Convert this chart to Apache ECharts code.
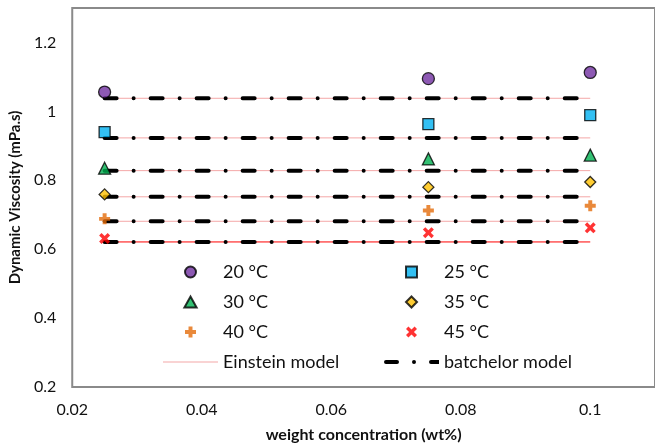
<!DOCTYPE html>
<html>
<head>
<meta charset="utf-8">
<script src="https://cdn.jsdelivr.net/npm/echarts@6/dist/echarts.min.js"></script>
<style>
  html, body { margin: 0; padding: 0; background: #fff; }
  #chart { width: 655px; height: 448px; }
</style>
</head>
<body>
<div id="chart"></div>
<script>
/* ------------------------------- Data -------------------------------- */
const concentrations = [0.025, 0.075, 0.1];
const tempNames = ['20 °C', '25 °C', '30 °C', '35 °C', '40 °C', '45 °C'];
const visc20 = [1.056, 1.095, 1.113];
const visc25 = [0.940, 0.963, 0.989];
const visc30 = [0.835, 0.862, 0.873];
const visc35 = [0.759, 0.780, 0.795];
const visc40 = [0.688, 0.712, 0.726];
const visc45 = [0.631, 0.648, 0.662];
// model lines, one value per temperature (flat over the range)
const modelRange = [0.025, 0.1];
const einstein = [1.038, 0.923, 0.828, 0.752, 0.681, 0.621];
const batchelor = [1.038, 0.923, 0.828, 0.752, 0.681, 0.621];

const measured = [visc20, visc25, visc30, visc35, visc40, visc45];

/* ------------------------------ Styles ------------------------------- */
const FONT = 'Lato';
const TEXT = '#111';
const plusPath = 'path://M3.2,0H6.8V3.2H10V6.8H6.8V10H3.2V6.8H0V3.2H3.2Z';
const crossPath = 'path://M0,2.2L2.2,0L5,2.8L7.8,0L10,2.2L7.2,5L10,7.8L7.8,10L5,7.2L2.2,10L0,7.8L2.8,5Z';

const markers = [
  { symbol: 'circle', icon: 'circle', size: 12, color: '#7030A0', border: '#000' },
  { symbol: 'rect', icon: 'path://M0,0H10V10H0Z', size: 11, color: '#00B0F0', border: '#000' },
  { symbol: 'triangle', icon: 'path://M5,0L10,9H0Z', size: 12, color: '#00B050', border: '#000' },
  { symbol: 'diamond', icon: 'path://M5,0L10,5L5,10L0,5Z', size: 11, color: '#FFC000', border: '#000' },
  { symbol: plusPath, icon: plusPath, size: 11, color: '#E36C0A', border: null },
  { symbol: crossPath, icon: crossPath, size: 11, color: '#FF0000', border: null }
];

const einsteinColor = i => (i === 5 ? '#FF0000' : '#F4A7A7');

// legend samples for the two model lines
const einsteinIcon = 'path://M0,0H55V1H0Z';
const batchelorIcon = 'path://M2,0H13A2,2 0 0 1 13,4H2A2,2 0 0 1 2,0Z' +
  'M30,0A2,2 0 0 1 30,4A2,2 0 0 1 30,0Z' +
  'M47,0H55V4H47A2,2 0 0 1 47,0Z';

/* ------------------------------ Series ------------------------------- */
const series = [];

einstein.forEach((v, i) => {
  series.push({
    name: 'Einstein model',
    type: 'line',
    symbol: 'none',
    silent: true,
    z: 2,
    lineStyle: { color: einsteinColor(i), width: 1 },
    itemStyle: { color: einsteinColor(i) },
    data: modelRange.map(x => [x, v])
  });
});

batchelor.forEach(v => {
  series.push({
    name: 'batchelor model',
    type: 'line',
    symbol: 'none',
    silent: true,
    z: 3,
    lineStyle: { color: '#000', width: 4, type: [12, 17, 0.01, 17], cap: 'round' },
    itemStyle: { color: '#000' },
    data: modelRange.map(x => [x, v])
  });
});

measured.forEach((vals, i) => {
  const m = markers[i];
  series.push({
    name: tempNames[i],
    type: 'scatter',
    z: 5,
    symbol: m.symbol,
    symbolSize: m.size,
    itemStyle: {
      color: m.color,
      borderColor: m.border || m.color,
      borderWidth: m.border ? 1.3 : 0
    },
    data: concentrations.map((x, k) => [x, vals[k]])
  });
});

/* ------------------------------ Legend ------------------------------- */
const legendBase = {
  orient: 'vertical',
  top: 262,
  padding: 0,
  itemWidth: 55,
  itemHeight: 11,
  itemGap: 10,
  selectedMode: false,
  symbolKeepAspect: true,
  textStyle: { fontFamily: FONT, fontSize: 18, color: TEXT, lineHeight: 20 }
};

const tempItem = i => ({ name: tempNames[i], icon: markers[i].icon });

const option = {
  animation: false,
  backgroundColor: '#fff',
  grid: {
    left: 68,
    top: 8,
    right: -5,
    bottom: 60,
    show: true,
    borderColor: '#8a8a8a',
    borderWidth: 2,
    backgroundColor: 'transparent'
  },
  legend: [
    Object.assign({}, legendBase, {
      left: 163,
      data: [tempItem(0), tempItem(2), tempItem(4), { name: 'Einstein model', icon: einsteinIcon }]
    }),
    Object.assign({}, legendBase, {
      left: 384,
      data: [tempItem(1), tempItem(3), tempItem(5), { name: 'batchelor model', icon: batchelorIcon }]
    })
  ],
  xAxis: {
    type: 'value',
    min: 0.02,
    max: 0.11,
    interval: 0.02,
    name: 'weight concentration (wt%)',
    nameLocation: 'middle',
    nameGap: 40,
    nameTextStyle: { fontFamily: FONT, fontSize: 16, fontWeight: 'bold', color: TEXT },
    axisLine: { show: false },
    axisTick: { show: false },
    splitLine: { show: false },
    axisLabel: { fontFamily: FONT, fontSize: 16, color: TEXT, margin: 15, showMaxLabel: false }
  },
  yAxis: {
    type: 'value',
    min: 0.2,
    max: 1.3,
    interval: 0.2,
    name: 'Dynamic Viscosity (mPa.s)',
    nameLocation: 'middle',
    nameGap: 44,
    nameTextStyle: { fontFamily: FONT, fontSize: 15, fontWeight: 'bold', color: TEXT },
    axisLine: { show: false },
    axisTick: { show: false },
    splitLine: { show: false },
    axisLabel: { fontFamily: FONT, fontSize: 16, color: TEXT, margin: 16, showMaxLabel: false }
  },
  series: series
};

const chart = echarts.init(document.getElementById('chart'));
chart.setOption(option);
</script>
</body>
</html>
